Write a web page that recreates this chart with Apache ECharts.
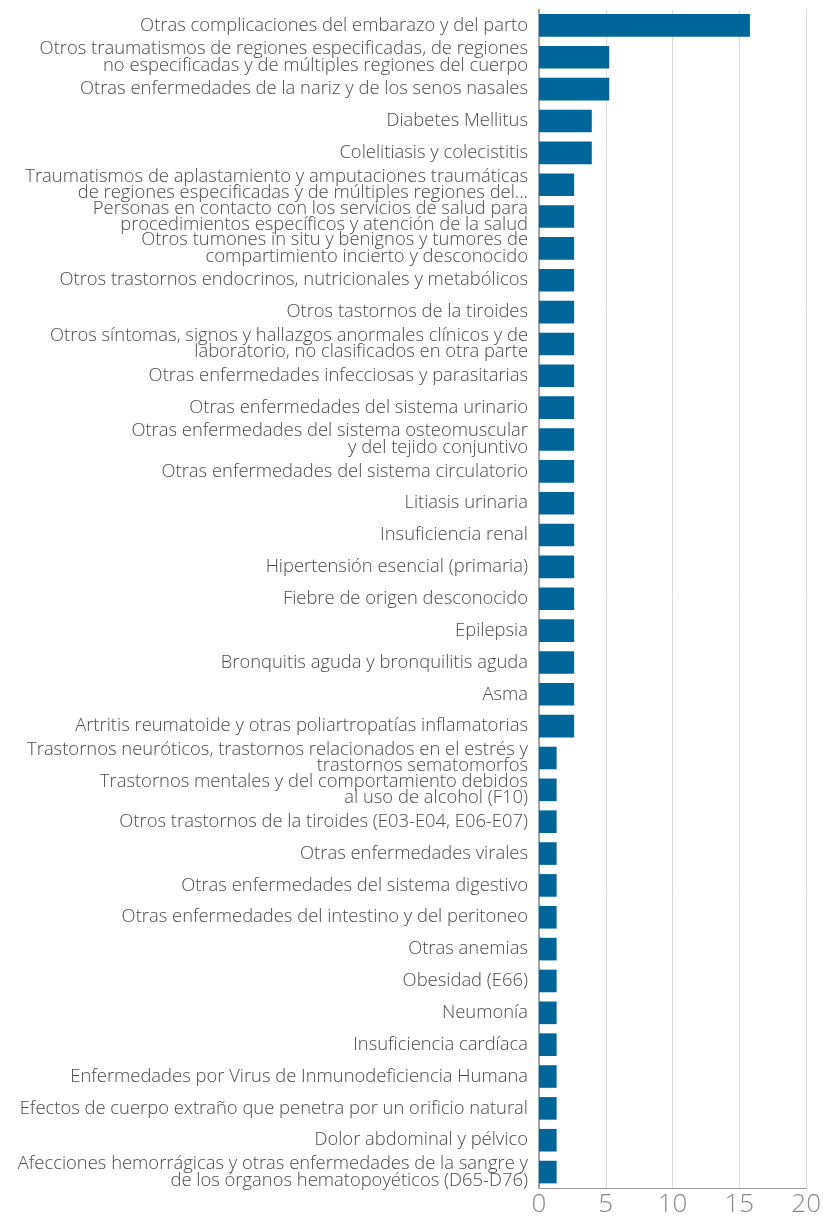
<!DOCTYPE html>
<html>
<head>
<meta charset="utf-8">
<script src="https://cdn.jsdelivr.net/npm/echarts@6/dist/echarts.min.js"></script>
<style>
  html, body { margin: 0; padding: 0; background: #fff; }
  #chart { width: 824px; height: 1218px; }
</style>
</head>
<body>
<div id="chart"></div>
<script>
// Diagnoses, listed top to bottom
const categories = [
  "Otras complicaciones del embarazo y del parto",
  "Otros traumatismos de regiones especificadas, de regiones\nno especificadas y de múltiples regiones del cuerpo",
  "Otras enfermedades de la nariz y de los senos nasales",
  "Diabetes Mellitus",
  "Colelitiasis y colecistitis",
  "Traumatismos de aplastamiento y amputaciones traumáticas\nde regiones especificadas y de múltiples regiones del...",
  "Personas en contacto con los servicios de salud para\nprocedimientos específicos y atención de la salud",
  "Otros tumones in situ y benignos y tumores de\ncompartimiento incierto y desconocido",
  "Otros trastornos endocrinos, nutricionales y metabólicos",
  "Otros tastornos de la tiroides",
  "Otros síntomas, signos y hallazgos anormales clínicos y de\nlaboratorio, no clasificados en otra parte",
  "Otras enfermedades infecciosas y parasitarias",
  "Otras enfermedades del sistema urinario",
  "Otras enfermedades del sistema osteomuscular\ny del tejido conjuntivo",
  "Otras enfermedades del sistema circulatorio",
  "Litiasis urinaria",
  "Insuficiencia renal",
  "Hipertensión esencial (primaria)",
  "Fiebre de origen desconocido",
  "Epilepsia",
  "Bronquitis aguda y bronquilitis aguda",
  "Asma",
  "Artritis reumatoide y otras poliartropatías inflamatorias",
  "Trastornos neuróticos, trastornos relacionados en el estrés y\ntrastornos sematomorfos",
  "Trastornos mentales y del comportamiento debidos\nal uso de alcohol (F10)",
  "Otros trastornos de la tiroides (E03-E04, E06-E07)",
  "Otras enfermedades virales",
  "Otras enfermedades del sistema digestivo",
  "Otras enfermedades del intestino y del peritoneo",
  "Otras anemias",
  "Obesidad (E66)",
  "Neumonía",
  "Insuficiencia cardíaca",
  "Enfermedades por Virus de Inmunodeficiencia Humana",
  "Efectos de cuerpo extraño que penetra por un orificio natural",
  "Dolor abdominal y pélvico",
  "Afecciones hemorrágicas y otras enfermedades de la sangre y\nde los órganos hematopoyéticos (D65-D76)"
];

// Share of cases (%), same order as categories
const values = [
  15.79, 5.26, 5.26, 3.95, 3.95,
  2.63, 2.63, 2.63, 2.63, 2.63, 2.63, 2.63, 2.63, 2.63, 2.63,
  2.63, 2.63, 2.63, 2.63, 2.63, 2.63, 2.63, 2.63,
  1.32, 1.32, 1.32, 1.32, 1.32, 1.32, 1.32, 1.32, 1.32, 1.32,
  1.32, 1.32, 1.32, 1.32
];

const xTicks = [0, 5, 10, 15, 20];

const chart = echarts.init(document.getElementById('chart'), null, { renderer: 'canvas' });
const labelFont = '"Open Sans", "DejaVu Sans", sans-serif';

chart.setOption({
  backgroundColor: '#ffffff',
  animation: false,
  grid: { left: 539, right: 16, top: 9.5, bottom: 28, containLabel: false },
  xAxis: {
    type: 'value',
    min: xTicks[0],
    max: xTicks[xTicks.length - 1],
    interval: 5,
    axisLine: { show: true, lineStyle: { color: '#9a9a9a', width: 1 } },
    axisTick: { show: false },
    splitLine: { show: true, lineStyle: { color: '#dcdcdc', width: 1 } },
    axisLabel: {
      color: '#8a8a8a',
      fontFamily: labelFont,
      fontWeight: 300,
      fontSize: 26,
      margin: 4
    }
  },
  yAxis: {
    type: 'category',
    data: categories,
    inverse: true,
    axisLine: { show: true, lineStyle: { color: '#8a8a8a', width: 1.5 } },
    axisTick: { show: false },
    splitLine: { show: false },
    axisLabel: {
      interval: 0,
      color: '#4a4a4a',
      fontFamily: labelFont,
      fontWeight: 300,
      fontSize: 18.4,
      lineHeight: 16.5,
      margin: 11,
      align: 'right'
    }
  },
  series: [{
    type: 'bar',
    data: values,
    barCategoryGap: '29%',
    itemStyle: { color: '#006699' },
    silent: true
  }]
});
</script>
</body>
</html>
